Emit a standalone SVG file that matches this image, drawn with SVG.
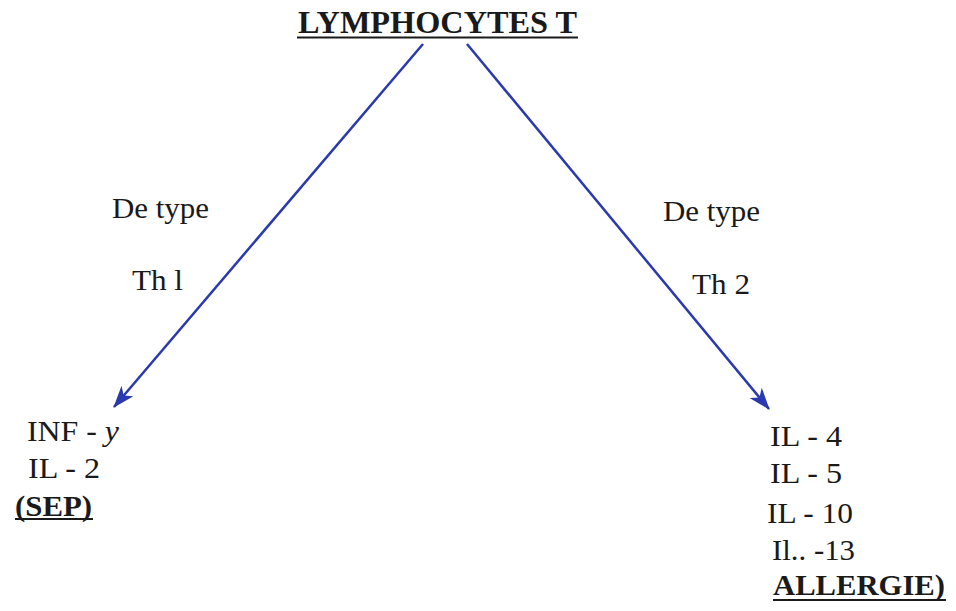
<svg xmlns="http://www.w3.org/2000/svg" width="956" height="611" viewBox="0 0 956 611">
<style>
text{font-family:"Liberation Serif","Tinos","Times New Roman","DejaVu Serif",serif}
.t{font-size:29px;fill:#1a1a1a}
.b{font-weight:bold}
.ul{stroke:#1a1a1a;stroke-width:2}
.c{stroke:#2a3aae;stroke-width:2.5;fill:none}
</style>
<defs>
<marker id="ah" viewBox="0 0 22 16" refX="21" refY="8" markerWidth="22" markerHeight="16" markerUnits="userSpaceOnUse" orient="auto">
<path d="M0,0 L22,8 L0,16 L6,8 Z" fill="#2a3aae"/>
</marker>
</defs>
<g id="title">
<text class="t b" x="298" y="33" textLength="279" lengthAdjust="spacingAndGlyphs" style="font-size:31px">LYMPHOCYTES T</text>
<line class="ul" x1="297" y1="37.5" x2="578" y2="37.5"/>
</g>
<g id="connectors">
<path class="c" d="M423,44 L114,407" marker-end="url(#ah)"/>
<path class="c" d="M467,44 L769,409" marker-end="url(#ah)"/>
</g>
<g id="label-th1">
<text class="t" x="112" y="218" textLength="97" lengthAdjust="spacingAndGlyphs">De type</text>
<text class="t" x="132" y="290" textLength="51" lengthAdjust="spacingAndGlyphs">Th l</text>
</g>
<g id="label-th2">
<text class="t" x="663" y="221" textLength="97" lengthAdjust="spacingAndGlyphs">De type</text>
<text class="t" x="692" y="294" textLength="58" lengthAdjust="spacingAndGlyphs">Th 2</text>
</g>
<g id="node-th1">
<text class="t" x="27" y="441" textLength="92" lengthAdjust="spacingAndGlyphs">INF - <tspan font-style="italic">y</tspan></text>
<text class="t" x="28" y="478" textLength="72" lengthAdjust="spacingAndGlyphs">IL - 2</text>
<text class="t b" x="15" y="516" textLength="77" lengthAdjust="spacingAndGlyphs">(SEP)</text>
<line class="ul" x1="15" y1="519" x2="93" y2="519"/>
</g>
<g id="node-th2">
<text class="t" x="770" y="446" textLength="72" lengthAdjust="spacingAndGlyphs">IL - 4</text>
<text class="t" x="770" y="483" textLength="72" lengthAdjust="spacingAndGlyphs">IL - 5</text>
<text class="t" x="767" y="523" textLength="86" lengthAdjust="spacingAndGlyphs">IL - 10</text>
<text class="t" x="772" y="560" textLength="83" lengthAdjust="spacingAndGlyphs">Il.. -13</text>
<text class="t b" x="773" y="595" textLength="172" lengthAdjust="spacingAndGlyphs">ALLERGIE)</text>
<line class="ul" x1="773" y1="600" x2="946" y2="600"/>
</g>
</svg>
